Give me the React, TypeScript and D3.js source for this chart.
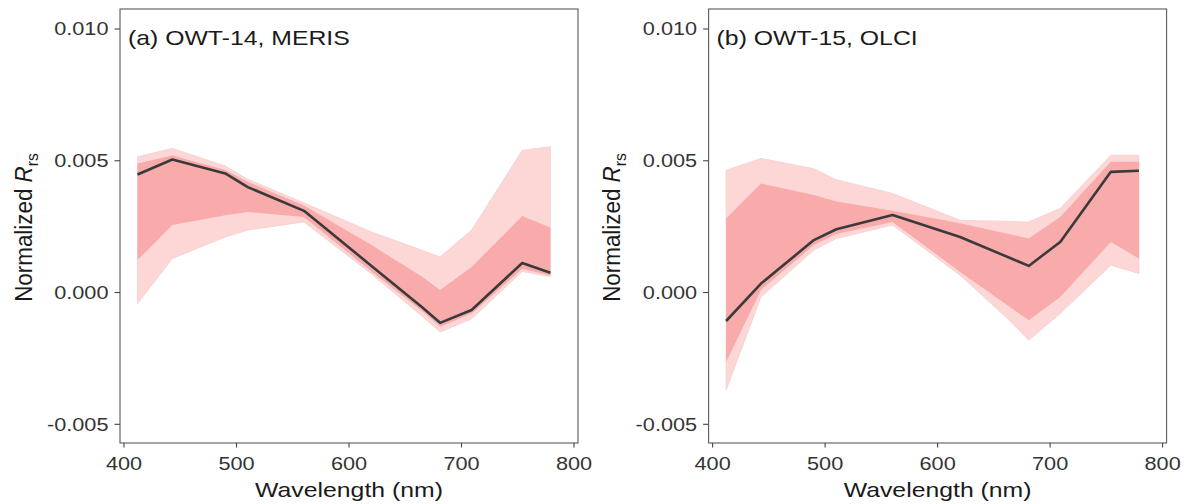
import React from "react";
import * as d3 from "d3";

// Panel (a) OWT-14, MERIS
const wlA = [412, 443, 490, 510, 560, 620, 665, 681, 709, 754, 779];
const meanA = [0.00448, 0.00505, 0.00452, 0.0040, 0.0031, 0.00101, -0.00056, -0.00115, -0.00066, 0.00112, 0.00075];
const innerUpA = [0.0049, 0.0052, 0.00465, 0.0042, 0.0033, 0.0018, 0.0006, 0.0001, 0.00097, 0.0029, 0.00247];
const innerLoA = [0.00123, 0.00256, 0.00293, 0.00306, 0.00287, 0.0008, -0.0007, -0.0013, -0.0008, 0.0009, 0.00065];
const outerUpA = [0.00515, 0.00547, 0.0048, 0.0043, 0.0034, 0.0023, 0.0016, 0.00135, 0.00237, 0.0054, 0.00553];
const outerLoA = [-0.00042, 0.00129, 0.00211, 0.00237, 0.00268, 0.0007, -0.0009, -0.0015, -0.001, 0.0008, 0.0006];

// Panel (b) OWT-15, OLCI
const wlB = [412, 443, 490, 510, 560, 620, 665, 674, 681, 709, 754, 779];
const meanB = [-0.00108, 0.00034, 0.00199, 0.0024, 0.00294, 0.00211, 0.0013, 0.00114, 0.00101, 0.00192, 0.00458, 0.00462];
const innerUpB = [0.00281, 0.00414, 0.0037, 0.00345, 0.0031, 0.00263, 0.0022, 0.00212, 0.00205, 0.00287, 0.00496, 0.00496];
const innerLoB = [-0.00264, 0.0001, 0.0018, 0.00222, 0.00268, 0.00078, -0.00057, -0.00084, -0.00105, -0.00017, 0.00192, 0.00129];
const outerUpB = [0.00464, 0.00509, 0.0047, 0.00428, 0.00376, 0.00274, 0.0027, 0.00268, 0.00268, 0.00319, 0.00521, 0.00521];
const outerLoB = [-0.00371, -0.00017, 0.00161, 0.00205, 0.00256, 0.00066, -0.0011, -0.0015, -0.00181, -0.0008, 0.00104, 0.00072];

const xTicks = [400, 500, 600, 700, 800];
const yTicks = [-0.005, 0.0, 0.005, 0.01];
const yTickLabels = ["-0.005", "0.000", "0.005", "0.010"];

const FONT = "Liberation Sans, Arial, sans-serif";
const SX = 1.24; // horizontal stretch of the reference image text

type STextProps = {
  x: number;
  y: number;
  anchor?: "start" | "middle" | "end";
  size: number;
  fill: string;
  children: React.ReactNode;
};

function SText({ x, y, anchor = "start", size, fill, children }: STextProps) {
  return (
    <text
      transform={`translate(${x},${y}) scale(${SX},1)`}
      textAnchor={anchor}
      fontFamily={FONT}
      fontSize={size}
      fill={fill}
    >
      {children}
    </text>
  );
}

type PanelProps = {
  dx: number;
  label: string;
  wl: number[];
  mean: number[];
  innerUp: number[];
  innerLo: number[];
  outerUp: number[];
  outerLo: number[];
};

function Panel({ dx, label, wl, mean, innerUp, innerLo, outerUp, outerLo }: PanelProps) {
  const x = d3.scaleLinear().domain([400, 800]).range([124 + dx, 574 + dx]);
  const y = d3.scaleLinear().domain([-0.005, 0.01]).range([424.3, 29]);
  const left = x(396.45);
  const right = x(803.55);
  const top = 9;
  const bottom = 443;
  const idx = wl.map((_, i) => i);
  const band = (up: number[], lo: number[]) =>
    d3
      .area<number>()
      .x((i) => x(wl[i]))
      .y0((i) => y(lo[i]))
      .y1((i) => y(up[i]))(idx) || "";
  const line =
    d3
      .line<number>()
      .x((i) => x(wl[i]))
      .y((i) => y(mean[i]))(idx) || "";
  const cx = (left + right) / 2;
  return (
    <g>
      <rect x={left} y={top} width={right - left} height={bottom - top} fill="#ffffff" />
      <path d={band(outerUp, outerLo)} fill="#fdd6d6" stroke="#f3cfcf" strokeWidth={0.8} />
      <path d={band(innerUp, innerLo)} fill="#f9aaaa" />
      <path d={line} fill="none" stroke="#3a3a3a" strokeWidth={2.6} strokeLinejoin="round" />
      <rect x={left} y={top} width={right - left} height={bottom - top} fill="none" stroke="#5a5a5a" strokeWidth={1.1} />
      {xTicks.map((t) => (
        <g key={"x" + t}>
          <line x1={x(t)} x2={x(t)} y1={bottom} y2={bottom + 4.5} stroke="#444" strokeWidth={1.1} />
          <SText x={x(t)} y={470} anchor="middle" size={17.5} fill="#333">
            {t}
          </SText>
        </g>
      ))}
      {yTicks.map((t, i) => (
        <g key={"y" + t}>
          <line x1={left - 5.5} x2={left} y1={y(t)} y2={y(t)} stroke="#444" strokeWidth={1.1} />
          <SText x={left - 11.5} y={y(t) + 6.3} anchor="end" size={17.5} fill="#333">
            {yTickLabels[i]}
          </SText>
        </g>
      ))}
      <SText x={left + 8} y={45} size={20} fill="#1a1a1a">
        {label}
      </SText>
      <SText x={cx} y={497} anchor="middle" size={20} fill="#1a1a1a">
        Wavelength (nm)
      </SText>
      <text
        transform={`translate(${dx + 31.5},${227.5}) rotate(-90) scale(1.12,1.24)`}
        textAnchor="middle"
        fontFamily={FONT}
        fontSize={20}
        fill="#1a1a1a"
      >
        Normalized <tspan fontStyle="italic">R</tspan>
        <tspan fontSize={14} dy={5}>rs</tspan>
      </text>
    </g>
  );
}

export default function App() {
  return (
    <svg width={1188} height={504} style={{ position: "absolute", left: 0, top: 0, display: "block" }}>
      <rect width={1188} height={504} fill="#ffffff" />
      <Panel
        dx={0}
        label="(a) OWT-14, MERIS"
        wl={wlA}
        mean={meanA}
        innerUp={innerUpA}
        innerLo={innerLoA}
        outerUp={outerUpA}
        outerLo={outerLoA}
      />
      <Panel
        dx={588.6}
        label="(b) OWT-15, OLCI"
        wl={wlB}
        mean={meanB}
        innerUp={innerUpB}
        innerLo={innerLoB}
        outerUp={outerUpB}
        outerLo={outerLoB}
      />
    </svg>
  );
}
